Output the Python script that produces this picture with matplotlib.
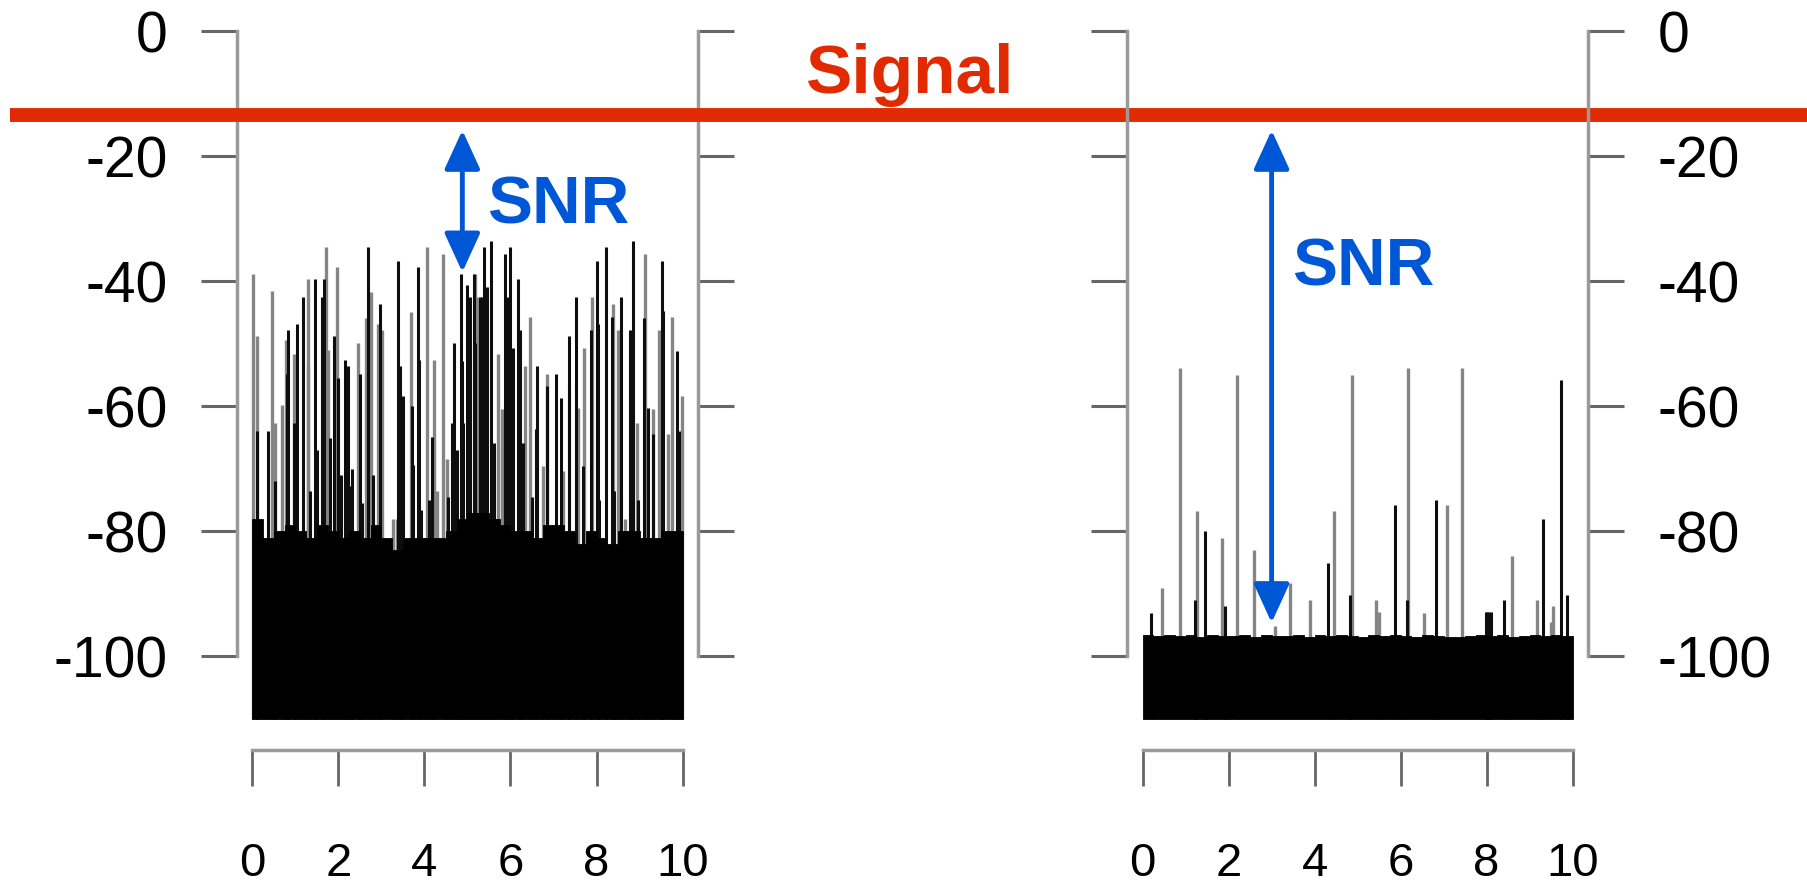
import matplotlib.pyplot as plt
import numpy as np

plt.rcParams['font.family'] = ['Liberation Sans', 'DejaVu Sans']
plt.rcParams['axes.unicode_minus'] = False

RED = '#E22A00'
BLUE = '#0057D6'
SPINE = '#9a9a9a'
TICK = '#666666'

BASE_DB = -110            # bars are drawn up from here
SIGNAL_DB = -13.3
x_ticks = [0, 2, 4, 6, 8, 10]
y_ticks = [0, -20, -40, -60, -80, -100]

# noise floor, one value per 0.25 step (left edge of each step)
floor_x = list(np.arange(0, 10, 0.25))
left_floor = [-78, -81, -80, -79, -80, -81, -79, -80, -81, -80,
              -81, -79, -81, -83, -81, -81, -81, -81, -80, -78,
              -77, -77, -78, -79, -80, -80, -81, -79, -79, -80,
              -82, -80, -81, -82, -80, -80, -81, -81, -80, -80]
right_floor = [-96.6, -96.8, -96.5, -96.8, -96.6, -96.9, -96.5, -96.7,
               -96.8, -96.6, -96.9, -96.5, -96.7, -96.8, -96.6, -96.9,
               -96.6, -96.8, -96.5, -96.7, -96.9, -96.6, -96.8, -96.5,
               -96.7, -96.9, -96.6, -96.8, -96.9, -96.9, -96.7, -96.6,
               -96.8, -96.6, -96.9, -96.7, -96.5, -96.8, -96.6, -96.7]

# spikes (position, peak dB), left spectrum
left_gray = [(0.02, -38.8), (0.10, -48.7), (0.45, -41.6), (0.52, -62.6),
             (0.68, -59.8), (0.77, -49.4), (0.97, -51.6), (1.28, -39.6),
             (1.30, -53.6), (1.70, -34.5), (1.76, -51.0), (1.96, -37.7),
             (2.45, -49.9), (2.63, -45.8), (2.76, -41.7), (2.93, -46.8),
             (3.02, -47.8), (3.27, -78.0), (3.35, -78.0), (3.68, -44.9),
             (4.05, -34.5), (4.21, -52.6), (4.28, -73.6), (4.44, -35.6),
             (4.52, -68.4), (5.17, -38.8), (5.23, -42.5), (5.72, -51.6),
             (5.80, -60.4), (6.34, -53.6), (6.45, -45.7), (6.76, -69.6),
             (6.86, -54.8), (7.23, -70.4), (7.58, -60.2), (7.72, -50.7),
             (7.89, -42.5), (8.39, -43.6), (8.51, -47.8), (8.66, -78.0),
             (8.93, -62.6), (9.13, -35.6), (9.32, -60.4), (9.45, -47.8),
             (9.66, -64.4), (9.76, -45.7), (9.98, -58.3)]
left_dark = [(0.10, -64.0), (0.35, -63.9), (0.52, -71.9), (0.80, -54.8),
             (0.83, -47.8), (0.97, -62.6), (1.04, -46.8), (1.18, -42.5),
             (1.34, -73.6), (1.45, -39.6), (1.49, -67.0), (1.62, -42.5),
             (1.67, -39.6), (1.80, -65.0), (1.90, -48.7), (2.00, -55.4),
             (2.07, -70.9), (2.15, -52.6), (2.21, -53.6), (2.29, -72.7),
             (2.32, -70.0), (2.50, -54.8), (2.55, -75.4), (2.69, -34.5),
             (2.81, -71.0), (2.97, -43.6), (3.39, -36.7), (3.43, -53.6),
             (3.51, -58.4), (3.70, -60.0), (3.73, -69.4), (3.86, -37.7),
             (3.88, -52.6), (3.93, -76.6), (4.11, -75.0), (4.17, -64.9),
             (4.55, -74.5), (4.63, -62.6), (4.69, -49.9), (4.75, -67.0),
             (4.86, -38.8), (4.87, -52.8), (4.90, -62.6), (4.98, -40.6),
             (5.02, -53.6), (5.06, -42.5), (5.14, -38.8), (5.17, -49.9),
             (5.29, -42.5), (5.33, -42.5), (5.38, -34.5), (5.45, -40.9),
             (5.54, -33.5), (5.62, -65.8), (5.87, -35.6), (5.88, -63.9),
             (5.95, -42.5), (6.00, -34.5), (6.05, -50.7), (6.18, -39.6),
             (6.22, -47.7), (6.30, -65.8), (6.49, -74.5), (6.59, -63.6),
             (6.62, -53.6), (6.86, -56.8), (7.05, -54.8), (7.17, -58.6),
             (7.36, -48.7), (7.35, -56.7), (7.52, -42.5), (7.69, -69.6),
             (7.88, -47.8), (8.00, -36.7), (8.04, -46.8), (8.06, -75.0),
             (8.21, -34.5), (8.37, -45.7), (8.41, -73.6), (8.57, -42.5),
             (8.78, -47.8), (8.84, -33.5), (8.82, -49.4), (8.97, -75.0),
             (9.11, -45.8), (9.20, -60.2), (9.32, -64.4), (9.53, -36.7),
             (9.54, -44.8), (9.87, -51.2), (9.92, -63.9)]

# spikes, right spectrum
right_gray = [(0.46, -89.1), (0.87, -53.9), (1.26, -76.8), (1.84, -81.0),
              (2.20, -54.9), (2.59, -82.9), (3.08, -95.1), (3.43, -88.2),
              (3.89, -91.0), (4.45, -76.8), (4.86, -55.0), (5.42, -91.0),
              (5.50, -92.9), (6.18, -53.9), (6.54, -93.0), (7.07, -75.8),
              (7.42, -53.9), (8.58, -83.9), (9.16, -91.0), (9.50, -94.5),
              (9.55, -91.9)]
right_dark = [(0.20, -93.0), (1.23, -91.0), (1.45, -80.0), (1.92, -91.9),
              (4.30, -85.0), (4.82, -90.1), (5.87, -75.8), (6.14, -91.0),
              (6.82, -74.9), (7.98, -92.9), (8.02, -92.9), (8.06, -92.9),
              (8.10, -92.9), (8.40, -91.0), (9.30, -78.0), (9.73, -55.8),
              (9.86, -90.1)]

# SNR arrows: (x, top dB, bottom dB) and label anchor (x, dB)
left_arrow = (4.88, -15.8, -38.5)
right_arrow = (3.0, -15.8, -94.6)
left_snr_pos = (5.46, -30.7)
right_snr_pos = (3.47, -40.7)


def draw_spectrum(ax, gray, dark, floor, labels_on):
    gx, gy = zip(*gray)
    dx, dy = zip(*dark)
    ax.vlines(gx, BASE_DB, gy, colors='#858585', linewidth=2.4, zorder=2)
    ax.vlines(dx, BASE_DB, dy, colors='#0d0d0d', linewidth=2.2, zorder=2.5)
    ax.bar(floor_x, np.array(floor) - BASE_DB, width=0.25, bottom=BASE_DB,
           align='edge', color='black', edgecolor='black', linewidth=0.6,
           zorder=3)

    ax.set_facecolor('none')
    ax.set_xlim(-0.36, 10.36)
    ax.set_ylim(-115, 5)
    ax.spines['top'].set_visible(False)
    for s in ['left', 'right', 'bottom']:
        ax.spines[s].set_color(SPINE)
        ax.spines[s].set_linewidth(2.5)
    ax.spines['left'].set_bounds(-100, 0)
    ax.spines['right'].set_bounds(-100, 0)
    ax.spines['bottom'].set_bounds(0, 10)

    ax.set_xticks(x_ticks)
    ax.set_xticklabels([str(t) for t in x_ticks])
    ax.set_yticks(y_ticks)
    ax.set_yticklabels([str(t) for t in y_ticks])
    ax.tick_params(axis='x', direction='out', length=26, width=2,
                   color=TICK, pad=40, labelsize=34)
    ax.tick_params(axis='y', direction='out', length=26, width=2.2,
                   color=TICK, pad=24, labelsize=41, left=True, right=True,
                   labelleft=(labels_on == 'left'),
                   labelright=(labels_on == 'right'))


def draw_snr(ax, arrow, text_pos):
    x, top, bottom = arrow
    ax.annotate('', xy=(x, bottom), xytext=(x, top),
                arrowprops=dict(arrowstyle='<|-|>,head_length=1.2,head_width=0.55',
                                color=BLUE, lw=3.5, mutation_scale=20,
                                shrinkA=0, shrinkB=0),
                annotation_clip=False, zorder=6)
    ax.text(text_pos[0], text_pos[1], 'SNR', color=BLUE, fontsize=48.5,
            fontweight='bold', ha='left', va='baseline', zorder=6)


fig = plt.figure(figsize=(18.08, 8.86), dpi=100)
ax1 = fig.add_axes([0.13108, 0.15322, 0.25498, 0.84650])
ax2 = fig.add_axes([0.62340, 0.15322, 0.25498, 0.84650])

draw_spectrum(ax1, left_gray, left_dark, left_floor, 'left')
draw_spectrum(ax2, right_gray, right_dark, right_floor, 'right')

ax1.axhline(SIGNAL_DB, xmin=-0.4924, xmax=3.41, color=RED, linewidth=10,
            solid_capstyle='butt', clip_on=False, zorder=5)
fig.text(0.5032, 0.8954, 'Signal', color=RED, fontsize=50, fontweight='bold',
         ha='center', va='baseline')

draw_snr(ax1, left_arrow, left_snr_pos)
draw_snr(ax2, right_arrow, right_snr_pos)

fig.savefig('out.png', dpi=100)
plt.close('all')
